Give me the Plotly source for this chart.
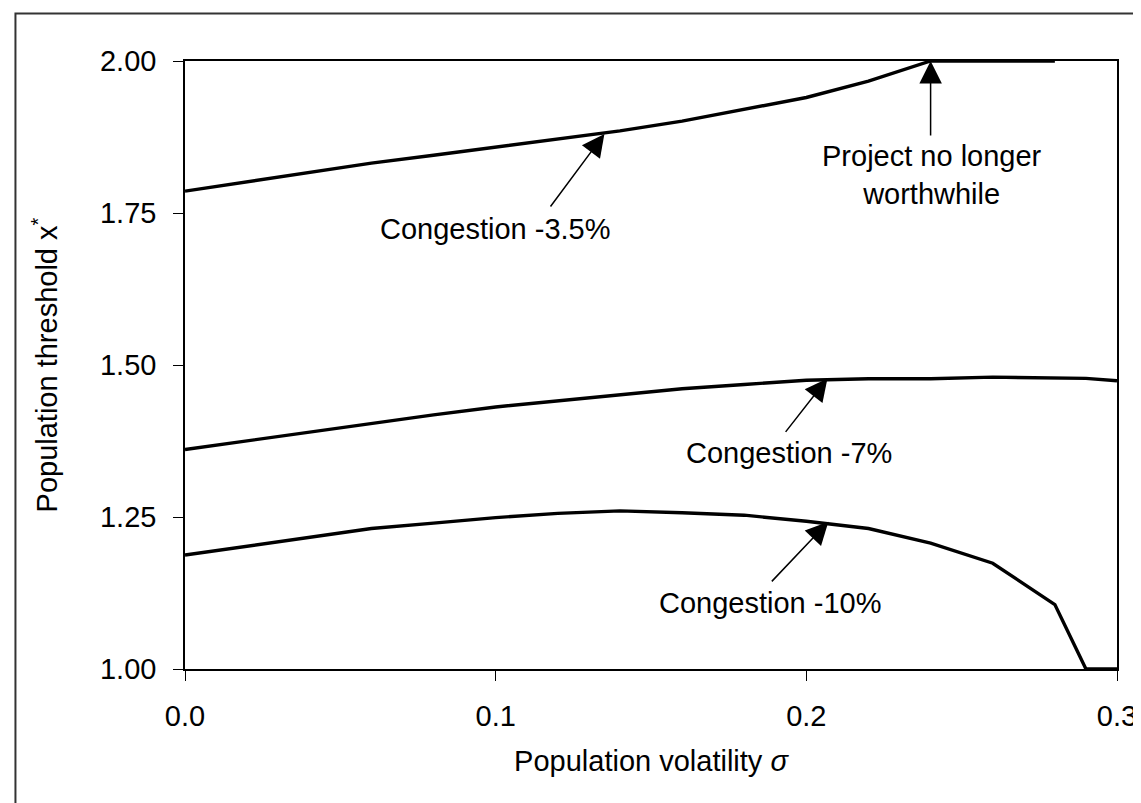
import plotly.graph_objects as go

# ---- data ----
sigma_35 = [0.0, 0.06, 0.08, 0.10, 0.12, 0.14, 0.16, 0.18, 0.20, 0.22, 0.24, 0.26, 0.28]
x_35 = [1.786, 1.832, 1.845, 1.858, 1.871, 1.885, 1.901, 1.920, 1.940, 1.967, 2.000, 2.000, 2.000]

sigma_7 = [0.0, 0.06, 0.08, 0.10, 0.12, 0.14, 0.16, 0.18, 0.20, 0.22, 0.24, 0.26, 0.28, 0.29, 0.30]
x_7 = [1.361, 1.404, 1.418, 1.431, 1.441, 1.451, 1.461, 1.468, 1.475, 1.4775, 1.4775, 1.480, 1.478, 1.478, 1.474]

sigma_10 = [0.0, 0.06, 0.08, 0.10, 0.12, 0.14, 0.16, 0.18, 0.20, 0.22, 0.24, 0.26, 0.28, 0.29, 0.30]
x_10 = [1.1875, 1.231, 1.240, 1.249, 1.256, 1.260, 1.257, 1.253, 1.243, 1.231, 1.207, 1.174, 1.106, 1.000, 1.000]

y_ticks = [1.00, 1.25, 1.50, 1.75, 2.00]
x_ticks = [0.0, 0.1, 0.2, 0.3]

FONT = "Liberation Sans, Arial, sans-serif"
FS = 29

fig = go.Figure()
for sx, sy, name in [(sigma_35, x_35, "Congestion -3.5%"),
                     (sigma_7, x_7, "Congestion -7%"),
                     (sigma_10, x_10, "Congestion -10%")]:
    fig.add_trace(go.Scatter(x=sx, y=sy, mode="lines", name=name,
                             line=dict(color="black", width=3.4),
                             cliponaxis=False, showlegend=False))

W, H = 1141, 803
L, R, T, B = 177, 1141 - 1117, 53, 803 - 661

fig.update_layout(
    width=W, height=H,
    margin=dict(l=L, r=R, t=T, b=B),
    paper_bgcolor="white", plot_bgcolor="white",
    font=dict(family=FONT, size=FS, color="black"),
    showlegend=False,
)
fig.update_xaxes(range=[0, 0.3], tickvals=x_ticks, tickformat=".1f",
                 showgrid=False, zeroline=False,
                 showline=True, linecolor="black", linewidth=1.5, mirror=True,
                 ticks="outside", ticklen=10, tickcolor="black", tickwidth=1.2,
                 ticklabelstandoff=10,
                 title=dict(text="Population volatility <i>σ</i>", standoff=20,
                            font=dict(size=FS)))
fig.update_yaxes(range=[1, 2], tickvals=y_ticks, tickformat=".2f",
                 showgrid=False, zeroline=False,
                 showline=True, linecolor="black", linewidth=1.5, mirror=True,
                 ticks="outside", ticklen=10, tickcolor="black", tickwidth=1.2,
                 ticklabelstandoff=11,
                 title=dict(text="Population threshold x<sup>*</sup>", standoff=34,
                            font=dict(size=FS)))

# outer frame
def px2paper_x(px):
    return (px - L) / (W - L - R)

def px2paper_y(py):
    return (H - B - py) / (H - T - B)

fig.add_shape(type="rect", xref="paper", yref="paper",
              x0=px2paper_x(6), x1=px2paper_x(1137), y0=px2paper_y(799), y1=px2paper_y(5.5),
              line=dict(color="#333333", width=2), layer="below")

# text labels
ann_font = dict(family=FONT, size=FS, color="black")
texts = [
    ("Congestion -3.5%", 0.0622, 1.724),
    ("Congestion -7%", 0.1605, 1.355),
    ("Congestion -10%", 0.152, 1.109),
]
for txt, xv, yv in texts:
    fig.add_annotation(x=xv, y=yv, text=txt, showarrow=False, font=ann_font,
                       xanchor="left", yanchor="middle")

fig.add_annotation(x=0.2403, y=1.873, text="Project no longer<br>worthwhile",
                   showarrow=False, font=ann_font, xanchor="center", yanchor="top")

# arrows (tip at data point, tail offset in pixels)
arrows = [
    (0.135, 1.880, -55, 74),
    (0.2068, 1.478, -43, 55),
    (0.2071, 1.242, -58, 61),
    (0.24, 2.0, 0, 76),
]
for xv, yv, ax, ay in arrows:
    fig.add_annotation(x=xv, y=yv, text="", showarrow=True, ax=ax, ay=ay,
                       axref="pixel", ayref="pixel",
                       arrowhead=2, arrowsize=3, arrowwidth=1.5, arrowcolor="black")

fig.write_html("out.html")
